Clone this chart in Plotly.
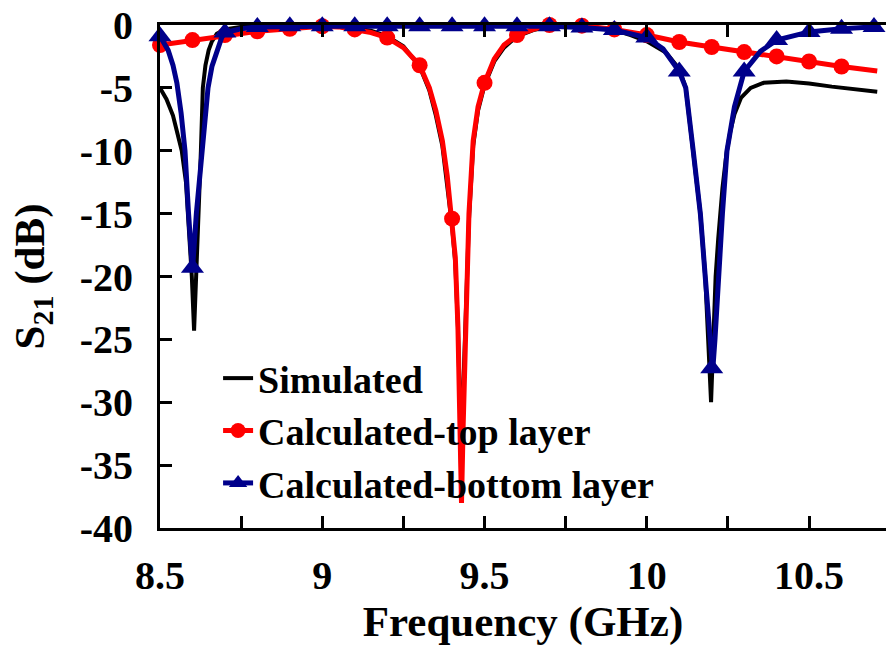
import plotly.graph_objects as go

# ---------------- data ----------------
sim_f = [8.50, 8.52, 8.54, 8.555, 8.567, 8.58, 8.587, 8.598, 8.605, 8.612, 8.618, 8.626,
         8.632, 8.64, 8.65, 8.66, 8.675, 8.70, 8.75, 8.80, 8.90, 9.00, 9.10, 9.15, 9.20,
         9.25, 9.30, 9.33, 9.35, 9.37, 9.385, 9.40, 9.41, 9.418, 9.424, 9.428, 9.433,
         9.44, 9.445, 9.452, 9.465, 9.48, 9.50, 9.53, 9.56, 9.60, 9.65, 9.70, 9.80, 9.90,
         9.95, 10.00, 10.06, 10.10, 10.12, 10.143, 10.165, 10.18, 10.19, 10.198, 10.205,
         10.212, 10.22, 10.233, 10.245, 10.257, 10.27, 10.29, 10.32, 10.36, 10.43, 10.50,
         10.57, 10.64, 10.71]
sim_db = [-5.0, -5.9, -7.2, -8.7, -10.0, -12.5, -15.0, -20.0, -24.3, -20.0, -15.0, -10.0,
          -5.0, -3.2, -2.0, -1.3, -0.7, -0.35, -0.15, -0.1, -0.05, -0.05, -0.25, -0.45, -0.9,
          -1.7, -3.3, -5.2, -7.2, -9.6, -12.5, -16.0, -19.0, -24.0, -30.0, -36.0, -30.0,
          -25.0, -20.0, -15.5, -9.6, -6.8, -4.8, -2.9, -1.8, -0.9, -0.4, -0.15, -0.15, -0.4,
          -0.8, -1.3, -2.2, -3.5, -5.0, -10.0, -15.0, -20.0, -26.0, -30.0, -25.0,
          -20.0, -17.0, -13.0, -10.3, -8.5, -7.1, -5.8, -5.0, -4.6, -4.5, -4.65,
          -4.9, -5.1, -5.3]

top_f = [8.50, 8.60, 8.70, 8.80, 8.90, 9.00, 9.05, 9.10, 9.15, 9.20, 9.25, 9.30, 9.33,
         9.35, 9.37, 9.385, 9.40, 9.41, 9.418, 9.424, 9.429, 9.434, 9.440, 9.445, 9.452,
         9.465, 9.48, 9.50, 9.53, 9.56, 9.60, 9.65, 9.70, 9.80, 9.90, 10.00, 10.10, 10.20,
         10.30, 10.40, 10.50, 10.60, 10.71]
top_db = [-1.6, -1.2, -0.8, -0.5, -0.3, -0.1, -0.15, -0.35, -0.6, -1.0, -1.8, -3.2, -5.0,
          -6.8, -9.2, -12.0, -15.4, -18.5, -24.0, -31.0, -38.0, -32.0, -26.0, -20.0, -15.0,
          -9.2, -6.5, -4.6, -2.7, -1.6, -0.8, -0.35, 0.0, -0.05, -0.35, -0.8, -1.35, -1.75,
          -2.15, -2.5, -2.9, -3.3, -3.65]
top_mk_f = [8.5, 8.6, 8.7, 8.8, 8.9, 9.0, 9.1, 9.2, 9.3, 9.4, 9.5, 9.6, 9.7, 9.8, 9.9,
            10.0, 10.1, 10.2, 10.3, 10.4, 10.5, 10.6]
top_mk_db = [-1.6, -1.2, -0.8, -0.5, -0.3, -0.1, -0.35, -1.0, -3.2, -15.4, -4.6, -0.8,
             0.0, -0.05, -0.35, -0.8, -1.35, -1.75, -2.15, -2.5, -2.9, -3.3]

bot_f = [8.50, 8.515, 8.525, 8.54, 8.552, 8.565, 8.577, 8.588, 8.600, 8.612, 8.629, 8.648,
         8.66, 8.675, 8.69, 8.70, 8.75, 8.80, 8.90, 9.00, 9.50, 9.70, 9.80, 9.90, 10.00,
         10.05, 10.10, 10.12, 10.143, 10.165, 10.18, 10.195, 10.203, 10.21, 10.22, 10.233,
         10.247, 10.27, 10.30, 10.35, 10.40, 10.50, 10.60, 10.70, 10.72]
bot_db = [-0.9, -1.5, -2.0, -3.2, -4.6, -7.0, -10.0, -15.0, -19.5, -15.0, -10.0, -5.0,
          -3.3, -2.0, -1.0, -0.6, -0.3, -0.15, -0.1, -0.1, -0.1, -0.1, -0.2, -0.4, -1.0,
          -1.9, -3.7, -5.0, -10.0, -15.0, -20.0, -25.5, -27.5, -25.0, -20.0, -15.0,
          -10.0, -6.5, -3.7, -2.1, -1.2, -0.55, -0.3, -0.15, -0.12]
bot_mk_f = [8.5, 8.6, 8.7, 8.8, 8.9, 9.0, 9.1, 9.2, 9.3, 9.4, 9.5, 9.6, 9.7, 9.8, 9.9,
            10.0, 10.1, 10.2, 10.3, 10.4, 10.5, 10.6, 10.7]
bot_mk_db = [-0.9, -19.3, -0.6, -0.15, -0.1, -0.1, -0.1, -0.1, -0.1, -0.1, -0.1, -0.1,
             -0.1, -0.2, -0.4, -1.0, -3.7, -27.3, -3.7, -1.2, -0.55, -0.3, -0.15]

y_ticks = [0, -5, -10, -15, -20, -25, -30, -35, -40]
y_ticktext = ["0", "-5", "-10", "-15", "-20", "-25", "-30", "-35", "-40"]

names = ["Simulated", "Calculated-top layer", "Calculated-bottom layer"]

# ---------------- styling ----------------
FONT = "Liberation Serif, Times New Roman, serif"
BLACK = "#000000"
RED = "#FF0000"
NAVY = "#00008B"

fig = go.Figure()

# lines
fig.add_trace(go.Scatter(x=sim_f, y=sim_db, mode="lines", line=dict(color=BLACK, width=4),
                         showlegend=False, hoverinfo="skip"))
fig.add_trace(go.Scatter(x=top_f, y=top_db, mode="lines", line=dict(color=RED, width=5),
                         showlegend=False, hoverinfo="skip"))
fig.add_trace(go.Scatter(x=top_mk_f, y=top_mk_db, mode="markers",
                         marker=dict(color=RED, size=16, symbol="circle"),
                         showlegend=False, cliponaxis=False))
fig.add_trace(go.Scatter(x=bot_f, y=bot_db, mode="lines", line=dict(color=NAVY, width=5),
                         showlegend=False, hoverinfo="skip"))
fig.add_trace(go.Scatter(x=bot_mk_f, y=bot_mk_db, mode="markers",
                         marker=dict(color=NAVY, size=20, symbol="triangle-up"),
                         showlegend=False, cliponaxis=False))

# legend entries
fig.add_trace(go.Scatter(x=[None], y=[None], mode="lines", name=names[0],
                         line=dict(color=BLACK, width=4)))
fig.add_trace(go.Scatter(x=[None], y=[None], mode="lines+markers", name=names[1],
                         line=dict(color=RED, width=5), marker=dict(color=RED, size=15)))
fig.add_trace(go.Scatter(x=[None], y=[None], mode="lines+markers", name=names[2],
                         line=dict(color=NAVY, width=5),
                         marker=dict(color=NAVY, size=18, symbol="triangle-up")))

fig.update_layout(
    width=886, height=650,
    margin=dict(l=160, r=0, t=25, b=122),
    paper_bgcolor="white", plot_bgcolor="white",
    font=dict(family=FONT, color="black"),
    showlegend=True,
    legend=dict(x=0.08, y=0.36, xanchor="left", yanchor="top",
                bgcolor="rgba(0,0,0,0)", borderwidth=0,
                font=dict(family=FONT, size=38, color="black", weight=700),
                itemwidth=30, tracegroupgap=0),
    xaxis=dict(range=[8.5, 10.737], tickmode="linear", tick0=8.5, dtick=0.5,
               ticks="inside", ticklen=12, tickwidth=2.5, tickcolor="black",
               minor=dict(dtick=0.25, tick0=8.5, ticks="inside", ticklen=12,
                          tickwidth=2.5, tickcolor="black"),
               showline=True, linewidth=3, linecolor="black", mirror="ticks",
               showgrid=False, zeroline=False,
               tickfont=dict(family=FONT, size=40, color="black", weight=700),
               ticklabelstandoff=10,
               title=dict(text="Frequency (GHz)", standoff=6,
                          font=dict(family=FONT, size=43, color="black", weight=700))),
    yaxis=dict(range=[-40, 0], tickmode="array", tickvals=y_ticks, ticktext=y_ticktext,
               ticks="inside", ticklen=12, tickwidth=2.5, tickcolor="black",
               showline=True, linewidth=3, linecolor="black", mirror=False,
               showgrid=False, zeroline=False,
               tickfont=dict(family=FONT, size=40, color="black", weight=700),
               ticklabelstandoff=16,
               title=dict(text="S<sub>21</sub> (dB)", standoff=22,
                          font=dict(family=FONT, size=43, color="black", weight=700))),
    yaxis2=dict(range=[-40, 0], overlaying="y", side="right", anchor="x",
                tickmode="array", tickvals=y_ticks, ticks="inside", ticklen=12,
                tickwidth=2.5, tickcolor="black", showticklabels=False,
                showline=False, showgrid=False, zeroline=False),
)

fig.write_html("out.html")
